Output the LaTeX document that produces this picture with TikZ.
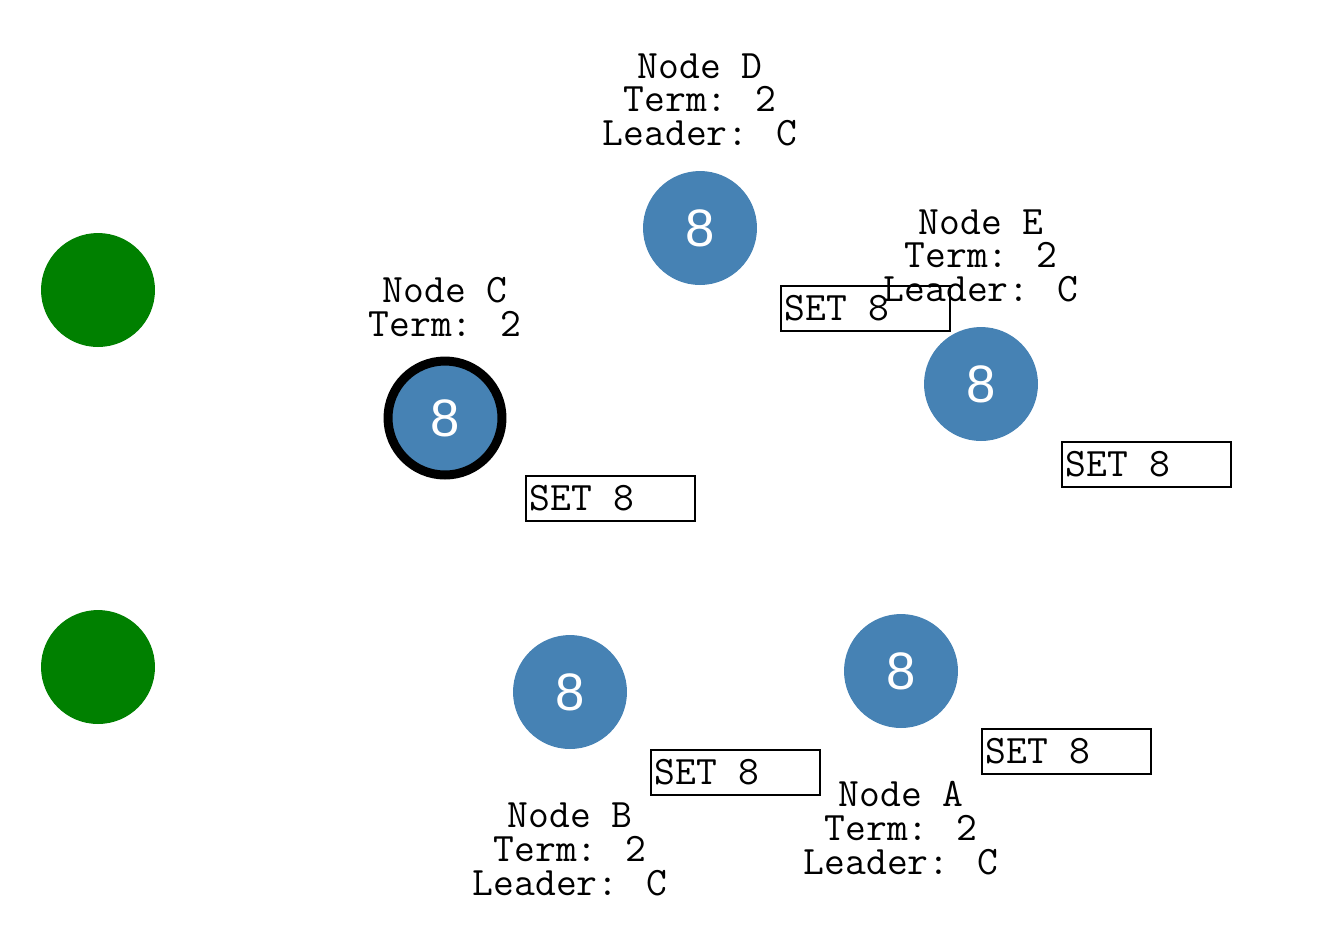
\documentclass[tikz,border=0pt]{standalone}
\usepackage{fontspec}
\setsansfont{Liberation Sans}
\usetikzlibrary{positioning}
\definecolor{steel}{HTML}{4682B4}
\definecolor{webgreen}{HTML}{008000}

\begin{document}
\begin{tikzpicture}[x=0.02cm,y=-0.02cm]\tikzset{
	server/.style = {shape=circle, fill=steel, minimum size=2.28cm, inner sep=0pt, text=white, font=\sffamily\fontsize{30}{30}\selectfont},
	leader/.style = {server, draw=black, line width=0.18cm, outer sep=0pt},
	client/.style = {shape=circle, fill=webgreen, minimum size=2.28cm, inner sep=0pt},
	info/.style = {align=center, inner sep=0pt, font=\ttfamily\fontsize{23}{19.3}\selectfont},
	msg/.style = {draw, line width=0.04cm, minimum height=0.9cm, inner xsep=0.08cm, inner ysep=0pt, font=\ttfamily\fontsize{23}{19.3}\selectfont}}

		\useasboundingbox (0,0) rectangle (1342,938);

		\node[client] (G_1) at (98,290) {};
		\node[client] (G_2) at (98,667) {};

		\node[server] (N_D) at (700,228) {8};
		\node[server] (N_E) at (981,384) {8};
		\node[leader] (N_C) at (445,418) {8};
		\node[server] (N_B) at (570,692) {8};
		\node[server] (N_A) at (901,671) {8};

		\node[info, above=0.48cm of N_D] (L_D) {Node D\\Term: 2\\Leader: C};
		\node[info, above=0.48cm of N_E] (L_E) {Node E\\Term: 2\\Leader: C};
		\node[info, above=0.48cm of N_C] (L_C) {Node C\\Term: 2};
		\node[info, below=1.06cm of N_B] (L_B) {Node B\\Term: 2\\Leader: C};
		\node[info, below=1.06cm of N_A] (L_A) {Node A\\Term: 2\\Leader: C};

		\node[msg, below right=1.14cm and 1.6cm of N_D.center] (M_D) {\makebox[3.22cm][l]{SET 8}};
		\node[msg, below right=1.14cm and 1.6cm of N_E.center] (M_E) {\makebox[3.22cm][l]{SET 8}};
		\node[msg, below right=1.14cm and 1.6cm of N_C.center] (M_C) {\makebox[3.22cm][l]{SET 8}};
		\node[msg, below right=1.14cm and 1.6cm of N_B.center] (M_B) {\makebox[3.22cm][l]{SET 8}};
		\node[msg, below right=1.14cm and 1.6cm of N_A.center] (M_A) {\makebox[3.22cm][l]{SET 8}};
	\end{tikzpicture}
\end{document}
